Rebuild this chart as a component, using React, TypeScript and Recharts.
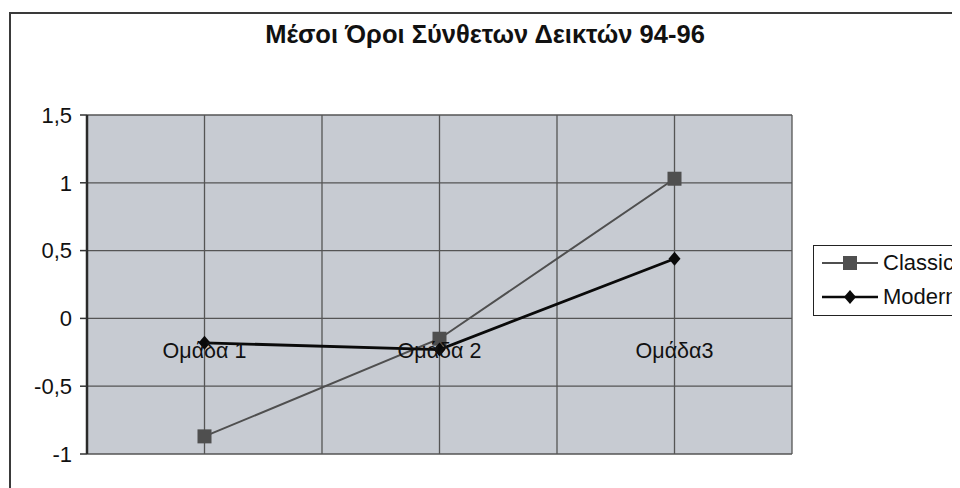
import { LineChart, Line, XAxis, YAxis, CartesianGrid, Legend, ReferenceDot } from "recharts"

const categories = ["Ομάδα 1", "Ομάδα 2", "Ομάδα3"]
const classic = [-0.87, -0.15, 1.03]
const modern = [-0.18, -0.23, 0.44]
const yTicks = [-1, -0.5, 0, 0.5, 1, 1.5]
const xTicks = [-0.5, 0, 0.5, 1, 1.5, 2, 2.5]
const X_DOMAIN = [-0.5, 2.5]

const FONT = '"Liberation Sans", Arial, sans-serif'
const CLASSIC_COLOR = "#4f4f4f"
const MODERN_COLOR = "#0a0a0a"

const data = categories.map((name, i) => ({ x: i, name, classic: classic[i], modern: modern[i] }))

function SquareDot(props: any) {
  const { cx, cy } = props
  if (cx == null || cy == null) return null
  return <rect x={cx - 7} y={cy - 7} width={14} height={14} fill={CLASSIC_COLOR} />
}

function DiamondDot(props: any) {
  const { cx, cy } = props
  if (cx == null || cy == null) return null
  return <polygon points={`${cx},${cy - 7} ${cx + 6},${cy} ${cx},${cy + 7} ${cx - 6},${cy}`} fill={MODERN_COLOR} />
}

function LegendBox() {
  const rows = [
    { label: "Classic", color: CLASSIC_COLOR, width: 2, Dot: SquareDot },
    { label: "Modern", color: MODERN_COLOR, width: 2.5, Dot: DiamondDot },
  ]
  return (
    <div
      style={{
        width: 146,
        height: 71,
        boxSizing: "border-box",
        border: "1.5px solid #222",
        background: "#fff",
        paddingLeft: 8,
        fontFamily: FONT,
        fontSize: 22,
        color: "#111",
        whiteSpace: "nowrap",
        overflow: "hidden",
      }}
    >
      {rows.map((r) => (
        <div key={r.label} style={{ display: "flex", alignItems: "center", height: 34 }}>
          <svg width={58} height={20} style={{ marginRight: 3, flexShrink: 0 }}>
            <line x1={0} y1={10} x2={56} y2={10} stroke={r.color} strokeWidth={r.width} />
            <r.Dot cx={28} cy={10} />
          </svg>
          <span>{r.label}</span>
        </div>
      ))}
    </div>
  )
}

// vertical grid at every half category, taken from the x axis scale
function verticalLines({ xAxis, offset }: any) {
  if (xAxis && typeof xAxis.scale === "function") {
    return xTicks.map((t) => xAxis.scale(t))
  }
  const span = X_DOMAIN[1] - X_DOMAIN[0]
  return xTicks.map((t) => offset.left + ((t - X_DOMAIN[0]) / span) * offset.width)
}

export default function App() {
  return (
    <div style={{ position: "relative", width: 952, height: 480, overflow: "hidden", background: "#fff" }}>
      <style>{`html, body { overflow: hidden; }`}</style>
      <div
        style={{
          position: "absolute",
          left: 1,
          top: 4,
          width: 1200,
          height: 1000,
          border: "2px solid #3a3a3a",
        }}
      />
      <div
        style={{
          position: "absolute",
          left: 1,
          top: 14,
          width: 952,
          textAlign: "center",
          fontFamily: FONT,
          fontWeight: "bold",
          fontSize: 25.5,
          lineHeight: 1,
          color: "#111",
        }}
      >
        Μέσοι Όροι Σύνθετων Δεικτών 94-96
      </div>
      <div style={{ position: "absolute", left: 0, top: 0 }}>
        <LineChart width={952} height={480} data={data} margin={{ top: 107, right: 168, bottom: 34, left: 0 }}>
          <CartesianGrid
            fill="#c7cbd2"
            stroke="#555"
            strokeWidth={1.3}
            verticalCoordinatesGenerator={verticalLines}
          />
          <XAxis
            type="number"
            dataKey="x"
            domain={X_DOMAIN}
            ticks={xTicks}
            tick={false}
            tickLine={false}
            height={0}
            axisLine={{ stroke: "#2a2a2a", strokeWidth: 2 }}
          />
          <YAxis
            domain={[-1, 1.5]}
            ticks={yTicks}
            width={79}
            tickSize={7}
            tickMargin={8}
            tickFormatter={(v: number) => String(v).replace(".", ",")}
            tick={{ fontFamily: FONT, fontSize: 22, fill: "#111" }}
            tickLine={{ stroke: "#333", strokeWidth: 1.5 }}
            axisLine={{ stroke: "#2a2a2a", strokeWidth: 2.5 }}
          />
          {categories.map((name, i) => (
            <ReferenceDot
              key={name}
              x={i}
              y={0}
              r={0}
              fill="none"
              stroke="none"
              label={{ value: name, position: "bottom", offset: 24, fontFamily: FONT, fontSize: 21.5, fill: "#111" }}
            />
          ))}
          <Line
            type="linear"
            dataKey="classic"
            name="Classic"
            stroke={CLASSIC_COLOR}
            strokeWidth={2}
            dot={<SquareDot />}
            activeDot={false}
            isAnimationActive={false}
          />
          <Line
            type="linear"
            dataKey="modern"
            name="Modern"
            stroke={MODERN_COLOR}
            strokeWidth={2.8}
            dot={<DiamondDot />}
            activeDot={false}
            isAnimationActive={false}
          />
          <Legend
            layout="horizontal"
            align="center"
            verticalAlign="middle"
            content={() => <LegendBox />}
            wrapperStyle={{ left: 805, top: 237, width: 146 }}
          />
        </LineChart>
      </div>
    </div>
  )
}
